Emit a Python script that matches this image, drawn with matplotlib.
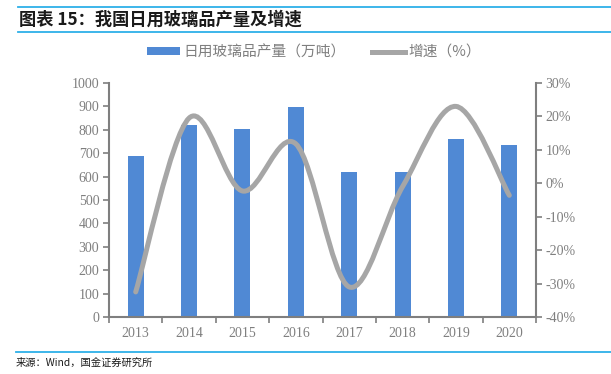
import matplotlib
matplotlib.use("Agg")
import matplotlib.pyplot as plt
from matplotlib.path import Path
from matplotlib.patches import PathPatch, Patch
from matplotlib.lines import Line2D
import numpy as np

years = ["2013", "2014", "2015", "2016", "2017", "2018", "2019", "2020"]
output = [688, 822, 803, 898, 618, 618, 760, 733]
growth = [-32.5, 19.5, -2.3, 11.8, -31.0, -1.0, 23.0, -3.6]
left_ticks = [0, 100, 200, 300, 400, 500, 600, 700, 800, 900, 1000]
right_ticks = [-40, -30, -20, -10, 0, 10, 20, 30]

cjk = ["Noto Sans CJK SC", "DejaVu Sans"]
serif = ["Liberation Serif", "DejaVu Serif"]
BAR = "#5089D4"
LINE = "#A6A6A6"
AX = "#7F7F7F"
TXT = "#7F7F7F"
BLUE_RULE = "#2DB0E8"

W, H = 611, 374
fig = plt.figure(figsize=(W / 100, H / 100), dpi=100)
ax = fig.add_axes([109 / W, (H - 317) / H, (536 - 109) / W, (317 - 83) / H])

x = np.arange(len(years))
ax.bar(x, output, width=0.3, color=BAR, zorder=2)
ax.set_xlim(-0.5, len(years) - 0.5)
ax.set_ylim(0, 1000)
ax.set_yticks(left_ticks)
ax.set_yticklabels([str(v) for v in left_ticks], family=serif, fontsize=10, color=TXT)
ax.set_xticks(x)
ax.set_xticklabels(years, family=serif, fontsize=10, color=TXT)
ax.tick_params(axis="x", length=0, pad=7)
ax.set_xticks(np.arange(len(years) + 1) - 0.5, minor=True)
ax.tick_params(axis="x", which="minor", length=4, width=1.2, color=AX, direction="out")
ax.tick_params(axis="y", length=4, width=1.2, color=AX, direction="out", pad=3)
for s in ["top", "right"]:
    ax.spines[s].set_visible(False)
for s in ["left", "bottom"]:
    ax.spines[s].set_color(AX)
    ax.spines[s].set_linewidth(1.5)

ax2 = ax.twinx()
ax2.set_ylim(-40, 30)
ax2.set_yticks(right_ticks)
ax2.set_yticklabels([f"{v}%" for v in right_ticks], family=serif, fontsize=10, color=TXT)
ax2.tick_params(axis="y", length=4, width=1.2, color=AX, direction="out", pad=3)
for s in ["top", "left", "bottom"]:
    ax2.spines[s].set_visible(False)
ax2.spines["right"].set_color(AX)
ax2.spines["right"].set_linewidth(1.5)

# smooth line (Catmull-Rom style Bezier, as in spreadsheet smoothing)
pts = np.column_stack([x, growth]).astype(float)
n = len(pts)
verts = [tuple(pts[0])]
codes = [Path.MOVETO]
for i in range(n - 1):
    p0 = pts[i - 1] if i > 0 else pts[i]
    p1 = pts[i]
    p2 = pts[i + 1]
    p3 = pts[i + 2] if i + 2 < n else pts[i + 1]
    c1 = p1 + (p2 - p0) / 6.0
    c2 = p2 - (p3 - p1) / 6.0
    verts += [tuple(c1), tuple(c2), tuple(p2)]
    codes += [Path.CURVE4] * 3
ax2.add_patch(PathPatch(Path(verts, codes), facecolor="none", edgecolor=LINE,
                        linewidth=3.6, capstyle="round", zorder=3))

# legend
handles = [Patch(facecolor=BAR, edgecolor="none"),
           Line2D([0], [0], color=LINE, linewidth=3.6)]
labels = ["日用玻璃品产量（万吨）", "增速（%）"]
fig.legend(handles, labels, loc="center", bbox_to_anchor=(314 / W, 1 - 52 / H),
           ncol=2, frameon=False, prop={"family": cjk, "size": 10.6},
           labelcolor=TXT, handlelength=2.25, handleheight=0.42, columnspacing=1.8,
           handletextpad=0.25)

# title and rules
fig.add_artist(Line2D([18 / W, 1], [1 - 7 / H] * 2, color=BLUE_RULE, linewidth=1.3))
fig.add_artist(Line2D([18 / W, 1], [1 - 32 / H] * 2, color=BLUE_RULE, linewidth=1.3))
fig.text(19 / W, 1 - 19.5 / H, "图表 15：我国日用玻璃品产量及增速", family=cjk,
         fontsize=12.4, fontweight="bold", color="#1A1A1A", va="center", ha="left")

fig.add_artist(Line2D([16 / W, 1], [1 - 352 / H] * 2, color=BLUE_RULE, linewidth=1.3))
fig.text(16 / W, 1 - 363 / H, "来源：Wind，国金证券研究所", family=cjk,
         fontsize=7.4, color="#1A1A1A", va="center", ha="left")

fig.savefig("out.png", dpi=100)
